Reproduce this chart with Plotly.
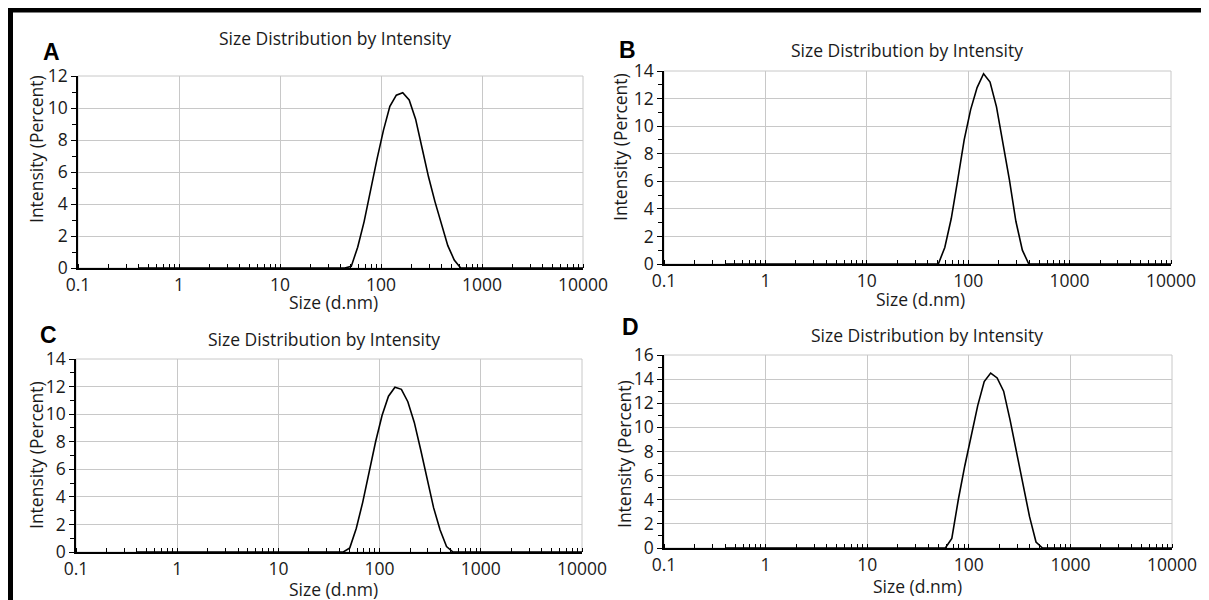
import plotly.graph_objects as go

# Zetasizer size bins (d.nm)
sizes = [0.4, 43.82, 50.75, 58.77, 68.06, 78.82, 91.28, 105.7, 122.4, 141.8, 164.2,
         190.1, 220.2, 255.0, 295.3, 342.0, 396.1, 458.7, 531.2, 615.1, 712.4, 10000]

intensity_A = [0, 0, 0.1, 1.3, 2.9, 4.9, 6.8, 8.6, 10.1, 10.8, 10.95,
               10.5, 9.3, 7.5, 5.7, 4.15, 2.7, 1.4, 0.5, 0, 0, 0]
intensity_B = [0, 0, 0, 1.2, 3.3, 6.1, 9.0, 11.2, 12.8, 13.8, 13.2,
               11.4, 8.8, 6.1, 3.1, 1.0, 0, 0, 0, 0, 0, 0]
intensity_C = [0, 0, 0.3, 1.7, 3.6, 5.8, 8.0, 9.9, 11.3, 11.95, 11.8,
               10.9, 9.4, 7.4, 5.2, 3.2, 1.6, 0.4, 0, 0, 0, 0]
intensity_D = [0, 0, 0, 0, 0.8, 4.0, 6.8, 9.4, 11.8, 13.8, 14.5,
               14.1, 13.0, 10.6, 8.0, 5.4, 2.6, 0.5, 0, 0, 0, 0]

x_tickvals = [0.1, 1, 10, 100, 1000, 10000]
x_ticktext = ["0.1", "1", "10", "100", "1000", "10000"]

panel_letters = ["A", "B", "C", "D"]
y_max = [12, 14, 14, 16]
series = [intensity_A, intensity_B, intensity_C, intensity_D]

# page is offset by the body margin (8 px)
OFF = 8
W, H = 1201, 592


def px(x):
    return (x - OFF) / W


def py(y):
    return 1 - (y - OFF) / H


# pixel boxes of plot areas on the page: (left, right, top, bottom)
boxes = [(78, 583, 76, 268), (664, 1171, 71, 264), (76, 582, 359, 552), (664, 1172, 355, 548)]
title_pos = [(335, 38), (907, 50), (324, 339), (927, 335)]
letter_pos = [(51, 52), (627, 50), (48, 335), (630, 327)]
xtitle_pos = [(333, 302), (920, 299), (333, 589), (917, 586)]
ytitle_pos = [(36, 149), (620, 147), (36, 455), (624, 454)]

FONT = "Open Sans"
FS = 17.5
TXT = "#1a1a1a"
fig = go.Figure()
layout = dict(width=W, height=H, margin=dict(l=0, r=0, t=0, b=0, pad=0), autosize=False,
              template="none",
              paper_bgcolor="white", plot_bgcolor="white", showlegend=False)
annotations = []
shapes = []

for i in range(4):
    n = "" if i == 0 else str(i + 1)
    l, r, t, b = boxes[i]
    fig.add_trace(go.Scatter(x=sizes, y=series[i], mode="lines",
                             line=dict(color="black", width=1.6),
                             xaxis="x" + n, yaxis="y" + n, hoverinfo="skip"))
    layout["xaxis" + n] = dict(
        type="log", range=[-1, 4], domain=[px(l), px(r)], anchor="y" + n,
        automargin=False,
        tickmode="array", tickvals=x_tickvals, ticktext=x_ticktext,
        showgrid=True, gridcolor="#c8c8c8", gridwidth=1,
        showline=True, linecolor="black", linewidth=1.5,
        ticks="", tickfont=dict(family=FONT, size=FS, color=TXT),
        minor=dict(ticks="inside", ticklen=4, tickcolor="black", tickwidth=1,
                   dtick="D1", showgrid=False),
        zeroline=False, fixedrange=True)
    layout["yaxis" + n] = dict(
        range=[0, y_max[i]], domain=[py(b), py(t)], anchor="x" + n,
        automargin=False,
        tickmode="linear", dtick=2, tick0=0, showgrid=True, gridcolor="#c8c8c8", gridwidth=1,
        showline=True, linecolor="black", linewidth=1.5,
        ticks="outside", ticklen=5, tickcolor="black", tickwidth=1,
        tickfont=dict(family=FONT, size=FS, color=TXT),
        minor=dict(ticks="outside", ticklen=4, tickcolor="black", tickwidth=1,
                   dtick=1, showgrid=False),
        zeroline=False, fixedrange=True)
    shapes.append(dict(type="rect", xref="x" + n + " domain", yref="y" + n + " domain",
                       x0=0, x1=1, y0=0, y1=1, line=dict(color="#c8c8c8", width=1),
                       layer="below"))
    tx, ty = title_pos[i]
    annotations.append(dict(text="Size Distribution by Intensity", x=px(tx), y=py(ty),
                            xref="paper", yref="paper", showarrow=False,
                            xanchor="center", yanchor="middle",
                            font=dict(family=FONT, size=FS, color=TXT)))
    lx, ly = letter_pos[i]
    annotations.append(dict(text="<b>" + panel_letters[i] + "</b>", x=px(lx), y=py(ly),
                            xref="paper", yref="paper", showarrow=False,
                            xanchor="center", yanchor="middle",
                            font=dict(family="Liberation Sans", size=23, color="black")))
    xx, xy = xtitle_pos[i]
    annotations.append(dict(text="Size (d.nm)", x=px(xx), y=py(xy),
                            xref="paper", yref="paper", showarrow=False,
                            xanchor="center", yanchor="middle",
                            font=dict(family=FONT, size=FS, color=TXT)))
    yx, yy = ytitle_pos[i]
    annotations.append(dict(text="Intensity (Percent)", x=px(yx), y=py(yy),
                            xref="paper", yref="paper", showarrow=False, textangle=-90,
                            xanchor="center", yanchor="middle",
                            font=dict(family=FONT, size=FS, color=TXT)))

# outer frame (top and left edges visible)
shapes.append(dict(type="line", xref="paper", yref="paper", x0=px(8), x1=1, y0=py(10), y1=py(10),
                   line=dict(color="black", width=5)))
shapes.append(dict(type="line", xref="paper", yref="paper", x0=px(10.5), x1=px(10.5), y0=0, y1=py(8),
                   line=dict(color="black", width=5)))

layout["annotations"] = annotations
layout["shapes"] = shapes
fig.update_layout(**layout)
fig.write_html("out.html")
